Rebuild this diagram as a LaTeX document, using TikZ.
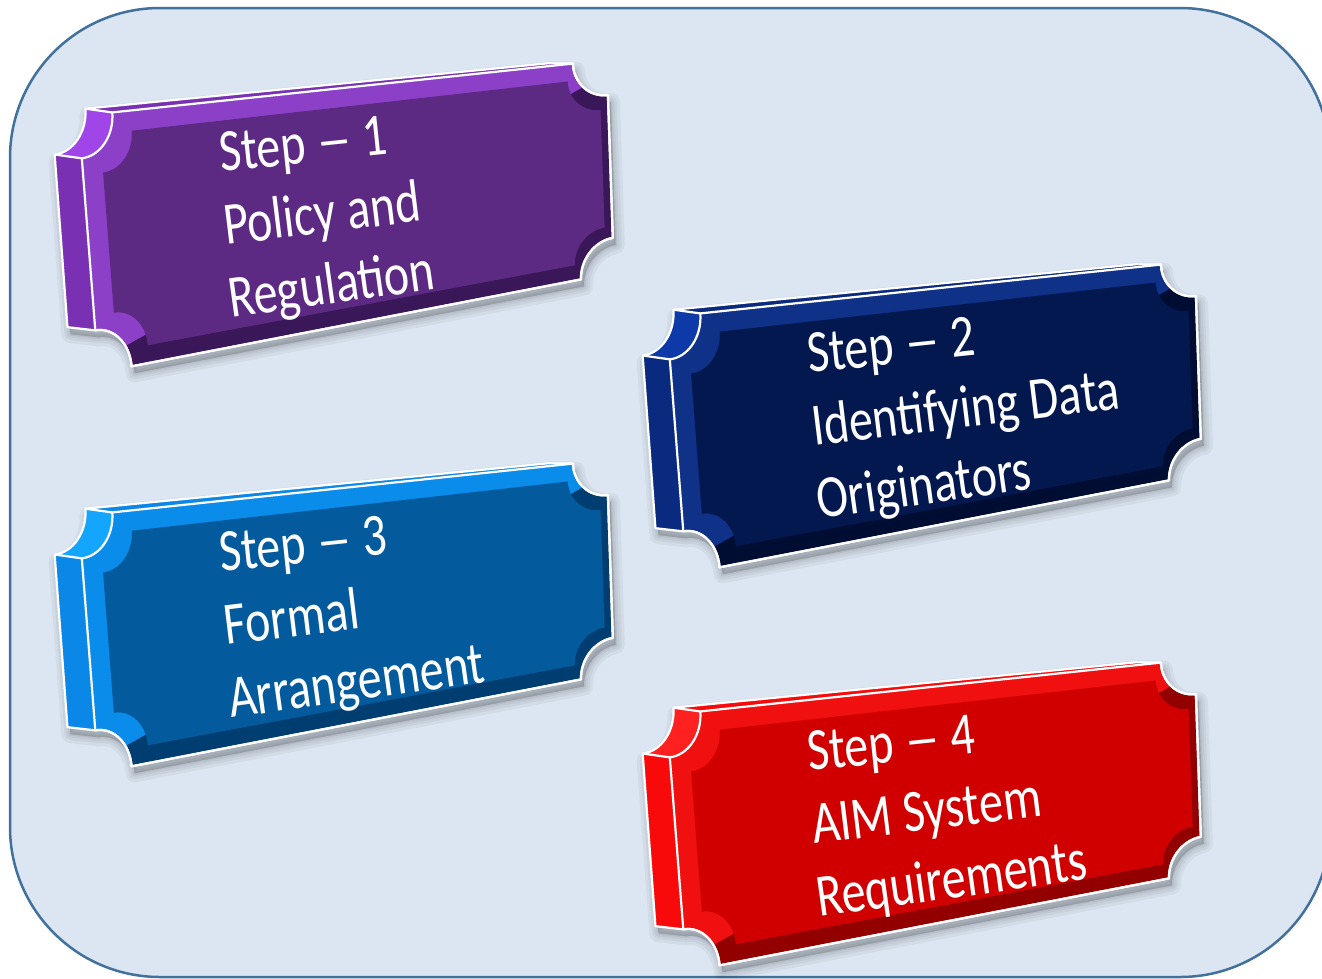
\documentclass[tikz,border=0pt]{standalone}
\usepackage{fontspec}
\usepackage{graphicx}
\newfontfamily\calfont{Carlito}
\usetikzlibrary{calc}

\definecolor{bgc}{HTML}{DCE6F2}
\definecolor{bordc}{HTML}{41719C}
% purple
\definecolor{pSide}{HTML}{7A30B2}\definecolor{pHi}{HTML}{A045E8}\definecolor{pLight}{HTML}{8C40C8}\definecolor{pFace}{HTML}{5C2A82}\definecolor{pDark}{HTML}{3A1759}
% navy
\definecolor{nSide}{HTML}{0A2A80}\definecolor{nHi}{HTML}{0D3AA8}\definecolor{nLight}{HTML}{0F3288}\definecolor{nFace}{HTML}{02184F}\definecolor{nDark}{HTML}{000D33}
% blue
\definecolor{bSide}{HTML}{0B87E8}\definecolor{bHi}{HTML}{14A6FF}\definecolor{bLight}{HTML}{0A8CEB}\definecolor{bFace}{HTML}{035A9C}\definecolor{bDark}{HTML}{003E72}
% red
\definecolor{rSide}{HTML}{F80A0A}\definecolor{rHi}{HTML}{FF2020}\definecolor{rLight}{HTML}{F01010}\definecolor{rFace}{HTML}{D00000}\definecolor{rDark}{HTML}{920000}

\newcommand\kk{0.5523}
\newcommand\stepdash{\scalebox{1.5}[1]{–}}
% bilinear map on the front face quad
\newcommand\uvF[3]{\pgfmathsetmacro\ux{(1-(#2))*(1-(#3))*78.5+(#2)*(1-(#3))*606.7+(1-(#2))*(#3)*98.6+(#2)*(#3)*614}%
 \pgfmathsetmacro\uy{(1-(#2))*(1-(#3))*116+(#2)*(1-(#3))*60+(1-(#2))*(#3)*372.7+(#2)*(#3)*273}%
 \coordinate (#1) at (\ux,\uy);}
% bilinear map on the back face quad
\newcommand\uvB[3]{\pgfmathsetmacro\ux{(1-(#2))*(1-(#3))*51.5+(#2)*(1-(#3))*581.7+(1-(#2))*(#3)*70.6+(#2)*(#3)*589}%
 \pgfmathsetmacro\uy{(1-(#2))*(1-(#3))*112+(#2)*(1-(#3))*60+(1-(#2))*(#3)*369.7+(#2)*(#3)*273}%
 \coordinate (#1) at (\ux,\uy);}
% plaque points: #1 map, #2 prefix, #3 u0, #4 v0, #5 u1, #6 v1, #7 ru, #8 rv
\newcommand\defpl[8]{%
 \csname uv#1\endcsname{#2p1}{#3}{#4+#8}%
 \csname uv#1\endcsname{#2p2}{#3+\kk*#7}{#4+#8}%
 \csname uv#1\endcsname{#2p3}{#3+#7}{#4+\kk*#8}%
 \csname uv#1\endcsname{#2p4}{#3+#7}{#4}%
 \csname uv#1\endcsname{#2p5}{#5-#7}{#4}%
 \csname uv#1\endcsname{#2p6}{#5-#7}{#4+\kk*#8}%
 \csname uv#1\endcsname{#2p7}{#5-\kk*#7}{#4+#8}%
 \csname uv#1\endcsname{#2p8}{#5}{#4+#8}%
 \csname uv#1\endcsname{#2p9}{#5}{#6-#8}%
 \csname uv#1\endcsname{#2p10}{#5-\kk*#7}{#6-#8}%
 \csname uv#1\endcsname{#2p11}{#5-#7}{#6-\kk*#8}%
 \csname uv#1\endcsname{#2p12}{#5-#7}{#6}%
 \csname uv#1\endcsname{#2p13}{#3+#7}{#6}%
 \csname uv#1\endcsname{#2p14}{#3+#7}{#6-\kk*#8}%
 \csname uv#1\endcsname{#2p15}{#3+\kk*#7}{#6-#8}%
 \csname uv#1\endcsname{#2p16}{#3}{#6-#8}%
}
\newcommand\plpath[1]{(#1p1) .. controls (#1p2) and (#1p3) .. (#1p4) -- (#1p5) .. controls (#1p6) and (#1p7) .. (#1p8) -- (#1p9) .. controls (#1p10) and (#1p11) .. (#1p12) -- (#1p13) .. controls (#1p14) and (#1p15) .. (#1p16) -- cycle}
\newcommand\silpath{(Bp16) -- (Bp1) .. controls (Bp2) and (Bp3) .. (Bp4) -- (Bp5) -- (Fp5) .. controls (Fp6) and (Fp7) .. (Fp8) -- (Fp9) .. controls (Fp10) and (Fp11) .. (Fp12) -- (Fp13) .. controls (Fp14) and (Fp15) .. (Fp16) -- cycle}

% #1,#2 shift; #3 side, #4 highlight, #5 light bevel, #6 face, #7 dark bevel
\newcommand\plaque[7]{%
\begin{scope}[shift={(#1,#2)}]
 \defpl{F}{F}{0}{0}{1}{1}{0.064}{0.165}
 \defpl{B}{B}{0}{0}{1}{1}{0.064}{0.165}
 \defpl{F}{I}{0.038}{0.08}{0.985}{0.93}{0.06}{0.15}
 \uvF{cBL}{0}{1}\uvF{cTR}{1}{0}\uvF{cBR}{1}{1}
 \uvF{iBL}{0.038}{0.93}\uvF{iTR}{0.985}{0.08}
 \begin{scope}[transform canvas={shift={(3pt,-7pt)}}]
  \foreach \w in {18,12,7,3}{\filldraw[black,opacity=0.045,line width=\w pt,line join=round] \silpath;}
 \end{scope}
 \fill[#3] \silpath;
 \fill[#4] (Bp1) .. controls (Bp2) and (Bp3) .. (Bp4) -- (Fp4) .. controls (Fp3) and (Fp2) .. (Fp1) -- cycle;
 \fill[#5] \plpath{F};
 \begin{scope}
  \clip \plpath{F};
  \fill[#7] (cBL) -- (iBL) -- (iTR) -- (cTR) -- (cBR) -- cycle;
 \end{scope}
 \fill[#6] \plpath{I};
 \draw[edge] \silpath;
 \draw[edge] \plpath{F};
 \draw[edge] (Bp1) -- (Fp1) (Bp4) -- (Fp4);
\end{scope}}

\begin{document}
\begin{tikzpicture}[x=1pt,y=-1pt,
  edge/.style={draw=white,line width=2.2pt,line join=round},
  steptxt/.style={text=white,font=\calfont\fontsize{48}{56}\selectfont,anchor=base west,inner sep=0pt}]
\useasboundingbox (0,0) rectangle (1322,978);
\fill[white] (0,0) rectangle (1322,978);
\draw[draw=bordc,fill=bgc,line width=2.5pt,rounded corners=150pt] (10,8) rectangle (1330,977);

\plaque{0}{0}{pSide}{pHi}{pLight}{pFace}{pDark}
\plaque{588}{201}{nSide}{nHi}{nLight}{nFace}{nDark}
\plaque{0}{400}{bSide}{bHi}{bLight}{bFace}{bDark}
\plaque{588}{599}{rSide}{rHi}{rLight}{rFace}{rDark}

\node[steptxt,rotate=6,yscale=1.25] (t1a) at (221,172) {Step \stepdash{} 1};
\node[steptxt,rotate=7,yscale=1.25] (t1b) at (226,245) {Policy and};
\node[steptxt,rotate=8,yscale=1.25] (t1c) at (231,318) {Regulation};

\node[steptxt,rotate=6,yscale=1.25] (t2a) at (809,373) {Step \stepdash{} 2};
\node[steptxt,rotate=7,yscale=1.25] (t2b) at (814,446) {Identifying Data};
\node[steptxt,rotate=8,yscale=1.25] (t2c) at (819,519) {Originators};

\node[steptxt,rotate=6,yscale=1.25] (t3a) at (221,572) {Step \stepdash{} 3};
\node[steptxt,rotate=7,yscale=1.25] (t3b) at (226,645) {Formal};
\node[steptxt,rotate=8,yscale=1.25] (t3c) at (231,718) {Arrangement};

\node[steptxt,rotate=6,yscale=1.25] (t4a) at (809,771) {Step \stepdash{} 4};
\node[steptxt,rotate=7,yscale=1.25] (t4b) at (814,844) {AIM System};
\node[steptxt,rotate=8,yscale=1.25] (t4c) at (819,917) {Requirements};
\end{tikzpicture}
\end{document}
